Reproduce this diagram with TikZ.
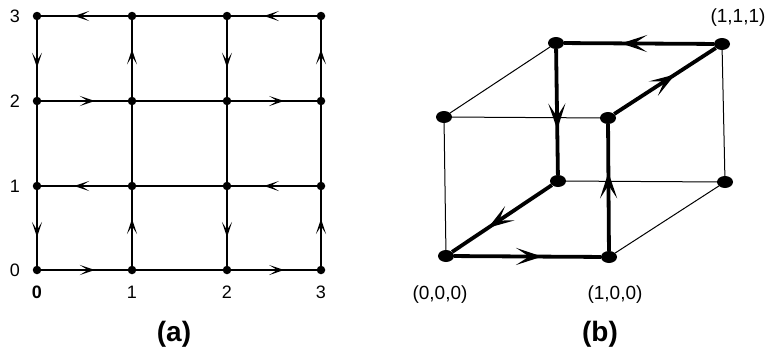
\documentclass[tikz,border=0pt]{standalone}
\usepackage{fontspec}
\setmainfont{Liberation Sans}
\usetikzlibrary{arrows.meta,decorations.markings,shapes.geometric}
\begin{document}
\begin{tikzpicture}[x=1pt,y=-1pt,
  gdot/.style={circle,fill=black,inner sep=0pt,minimum size=8.5pt},
  cdot/.style={ellipse,fill=black,inner sep=0pt,minimum width=16pt,minimum height=12pt},
  ge/.style={line width=1.8pt},
  garr/.style={ge,postaction={decorate},decoration={markings,mark=at position #1 with {\arrow{Stealth[length=15pt,width=10pt,inset=8pt]}}}},
  thinedge/.style={line width=1pt},
  ce/.style={line width=3.8pt},
  carr/.style={ce,postaction={decorate},decoration={markings,mark=at position #1 with {\arrow{Stealth[length=26pt,width=17pt,inset=13pt]}}}},
  axlab/.style={font=\fontsize{18}{18}\selectfont},
  clab/.style={font=\fontsize{19}{19}\selectfont},
  captext/.style={font=\fontsize{28}{28}\selectfont\bfseries}
]
\useasboundingbox (0,0) rectangle (766,354);
% grid (a)
\foreach \i/\x in {0/37,1/132,2/227,3/321}{
  \foreach \j/\y in {0/270,1/186,2/101,3/16}{
    \node[gdot] (g\i\j) at (\x,\y) {};
  }
}
% horizontal edges
\draw[garr=0.62] (g13) -- (g03);
\draw[ge] (g13) -- (g23);
\draw[garr=0.62] (g33) -- (g23);
\draw[garr=0.62] (g02) -- (g12);
\draw[ge] (g12) -- (g22);
\draw[garr=0.62] (g22) -- (g32);
\draw[garr=0.62] (g11) -- (g01);
\draw[ge] (g11) -- (g21);
\draw[garr=0.62] (g31) -- (g21);
\draw[garr=0.62] (g00) -- (g10);
\draw[ge] (g10) -- (g20);
\draw[garr=0.62] (g20) -- (g30);
% vertical edges
\draw[garr=0.62] (g03) -- (g02);
\draw[ge] (g02) -- (g01);
\draw[garr=0.62] (g01) -- (g00);
\draw[garr=0.62] (g12) -- (g13);
\draw[ge] (g11) -- (g12);
\draw[garr=0.62] (g10) -- (g11);
\draw[garr=0.62] (g23) -- (g22);
\draw[ge] (g22) -- (g21);
\draw[garr=0.62] (g21) -- (g20);
\draw[garr=0.62] (g32) -- (g33);
\draw[ge] (g31) -- (g32);
\draw[garr=0.62] (g30) -- (g31);
% axis labels
\node[axlab] (ly0) at (15,270) {0};
\node[axlab] (ly1) at (15,186) {1};
\node[axlab] (ly2) at (15,101) {2};
\node[axlab] (ly3) at (15,16) {3};
\node[axlab,font=\fontsize{18}{18}\selectfont\bfseries] (lx0) at (37,292) {0};
\node[axlab] (lx1) at (132,292) {1};
\node[axlab] (lx2) at (227,292) {2};
\node[axlab] (lx3) at (321,292) {3};
% cube (b)
\node[cdot] (A) at (446,256) {};
\node[cdot] (B) at (609,257) {};
\node[cdot] (C) at (444,117) {};
\node[cdot] (D) at (608,118) {};
\node[cdot] (E) at (556,43) {};
\node[cdot] (F) at (722,44) {};
\node[cdot] (G) at (558,181) {};
\node[cdot] (H) at (725,182) {};
\draw[thinedge] (E) -- (C);
\draw[thinedge] (C) -- (D);
\draw[thinedge] (C) -- (A);
\draw[thinedge] (F) -- (H);
\draw[thinedge] (G) -- (H);
\draw[thinedge] (H) -- (B);
\draw[carr=0.6] (A) -- (B);
\draw[carr=0.62] (B) -- (D);
\draw[carr=0.6] (D) -- (F);
\draw[carr=0.62] (F) -- (E);
\draw[carr=0.64] (E) -- (G);
\draw[carr=0.64] (G) -- (A);
\node[clab] (l000) at (440,295) {(0,0,0)};
\node[clab] (l100) at (615,295) {(1,0,0)};
\node[clab] (l111) at (738,18) {(1,1,1)};
\node[captext] (capa) at (174,334) {(a)};
\node[captext] (capb) at (600,334) {(b)};
\end{tikzpicture}
\end{document}
